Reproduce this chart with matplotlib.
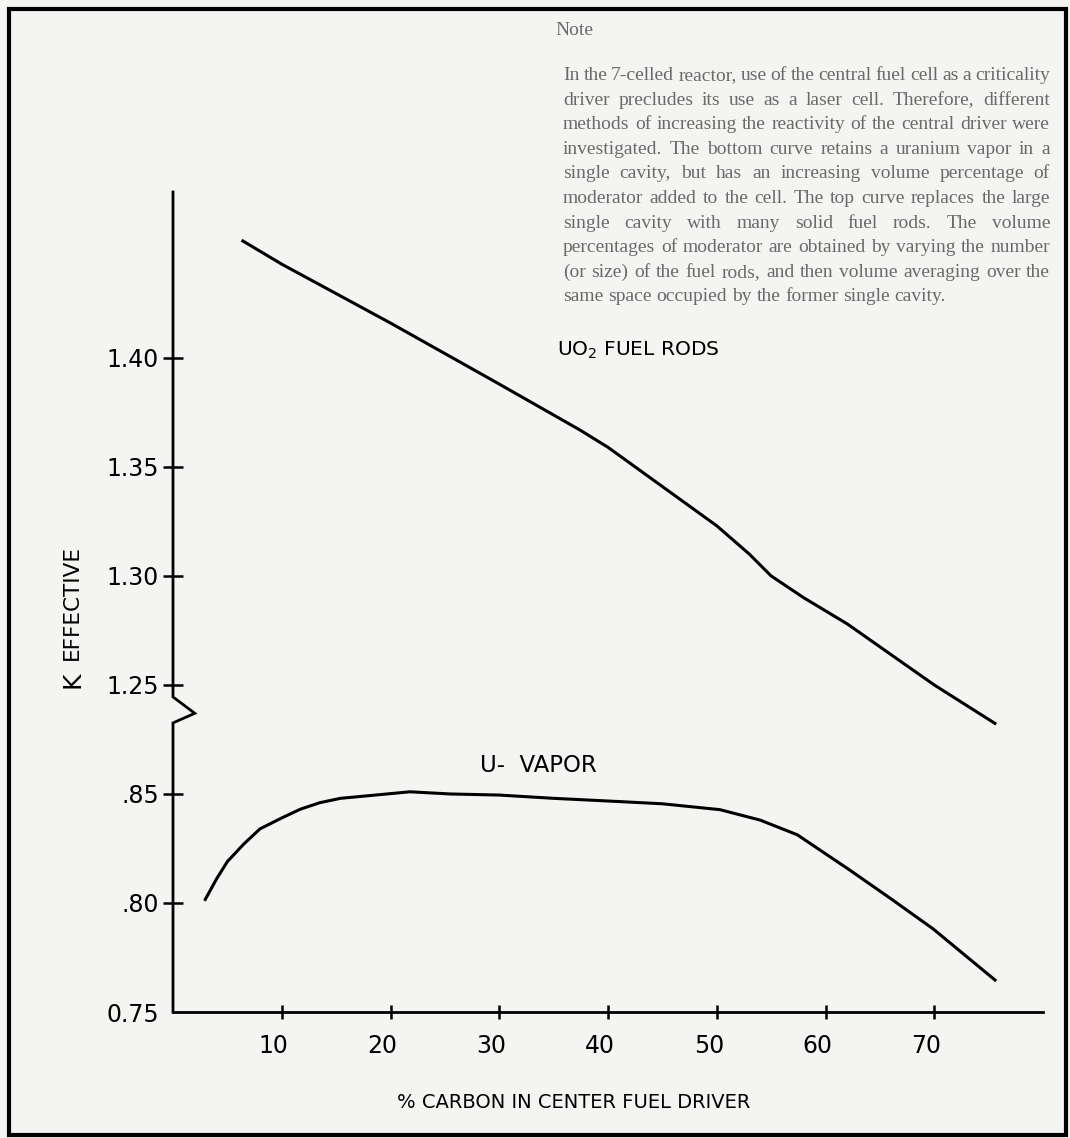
import numpy as np
import matplotlib
matplotlib.use('Agg')
import matplotlib.pyplot as plt
from matplotlib.patches import Rectangle
from matplotlib.transforms import ScaledTranslation

W, H = 1070, 1138
DPI = 100
PAPER = '#f4f4f2'
SANS = 'DejaVu Sans'

# data (K effective vs % carbon)
uo2_pct = [6.3, 10, 20, 30, 37.4, 40, 45, 50, 53, 55, 58, 62, 66, 70, 75.7]
uo2_keff = [1.454, 1.443, 1.416, 1.388, 1.367, 1.359, 1.341, 1.323, 1.310,
            1.300, 1.290, 1.278, 1.264, 1.250, 1.232]

vap_pct = [2.9, 4.0, 5.0, 6.5, 8.0, 10, 11.7, 13.5, 15.4, 21.8, 25.5, 30, 35,
           41.1, 45, 50.3, 54, 57.4, 62.2, 66, 69.9, 75.7]
vap_keff = [0.801, 0.811, 0.819, 0.827, 0.834, 0.839, 0.843, 0.846, 0.848,
            0.851, 0.850, 0.8495, 0.848, 0.8465, 0.8455, 0.8428, 0.838,
            0.8313, 0.8152, 0.802, 0.7881, 0.7642]

x_ticks = [10, 20, 30, 40, 50, 60, 70]
y_ticks = [0.75, 0.80, 0.85, 1.25, 1.30, 1.35, 1.40]
y_tick_labels = ['0.75', '.80', '.85', '1.25', '1.30', '1.35', '1.40']

note_lines = [
    "In the 7-celled reactor, use of the central fuel cell as a criticality",
    "driver precludes its use as a laser cell. Therefore, different",
    "methods of increasing the reactivity of the central driver were",
    "investigated. The bottom curve retains a uranium vapor in a",
    "single cavity, but has an increasing volume percentage of",
    "moderator added to the cell. The top curve replaces the large",
    "single cavity with many solid fuel rods. The volume",
    "percentages of moderator are obtained by varying the number",
    "(or size) of the fuel rods, and then volume averaging over the",
    "same space occupied by the former single cavity.",
]

# broken y axis: squeeze the empty band between .85 and 1.25
BRK_REAL = [0.0, 0.87, 1.23, 2.0]
BRK_AXIS = [0.0, 0.87, 0.88, 1.65]


def fwd(y):
    return np.interp(y, BRK_REAL, BRK_AXIS)


def inv(y):
    return np.interp(y, BRK_AXIS, BRK_REAL)


def fx(px):
    return px / W


def fy(py):
    return 1 - py / H


def text_width(fig, s, **kw):
    r = fig.canvas.get_renderer()
    t = fig.text(0, 0, s, **kw)
    w = t.get_window_extent(r).width
    t.remove()
    return w


def put_justified(fig, line, x0, x1, y, last=False, **kw):
    words = line.split()
    widths = [text_width(fig, w, **kw) for w in words]
    natural = text_width(fig, 'a a', **kw) - text_width(fig, 'aa', **kw)
    if last or len(words) < 2:
        gap = natural
    else:
        gap = max((x1 - x0 - sum(widths)) / (len(words) - 1), 2)
    x = x0
    for w, wd in zip(words, widths):
        fig.text(fx(x), fy(y), w, ha='left', va='baseline', **kw)
        x += wd + gap


fig = plt.figure(figsize=(W / DPI, H / DPI), dpi=DPI, facecolor=PAPER)
ax = fig.add_axes([fx(173), fy(1012), fx(1043) - fx(173), fy(192) - fy(1012)])
ax.set_facecolor(PAPER)
ax.set_yscale('function', functions=(fwd, inv))
ax.set_xlim(0, 80)
ax.set_ylim(0.75, 1.4761)

ax.plot(uo2_pct, uo2_keff, color='black', lw=2.2, solid_capstyle='butt')
ax.plot(vap_pct, vap_keff, color='black', lw=2.2, solid_capstyle='butt')

for side in ['top', 'right', 'left']:
    ax.spines[side].set_visible(False)
ax.spines['bottom'].set_linewidth(2.0)

# left axis drawn by hand with the break zig-zag
top = ax.get_ylim()[1]
ax.plot([0, 0, 2.0, 0, 0], [top, 1.2445, 1.237, 1.2326, 0.75],
        color='black', lw=2.0, clip_on=False, solid_joinstyle='miter')

ax.set_xticks(x_ticks, [str(v) for v in x_ticks])
ax.set_yticks(y_ticks, y_tick_labels)
ax.minorticks_off()
ax.tick_params(axis='x', direction='inout', length=10, width=1.8, pad=11,
               labelsize=17)
ax.tick_params(axis='y', direction='inout', length=14, width=1.8, pad=3,
               labelsize=17)
for lbl in ax.get_xticklabels():
    lbl.set_transform(lbl.get_transform()
                      + ScaledTranslation(-8 / DPI, 0, fig.dpi_scale_trans))
ax.yaxis.get_major_ticks()[0].tick1line.set_visible(False)

# curve labels
fig.text(fx(557), fy(350), 'UO$_2$ FUEL RODS', family=SANS, fontsize=14.5,
         ha='left', va='center')
fig.text(fx(480), fy(765), 'U-  VAPOR', family=SANS, fontsize=16.5,
         ha='left', va='center')

# axis titles
fig.text(fx(397), fy(1102), '% CARBON IN CENTER FUEL DRIVER', family=SANS,
         fontsize=14, ha='left', va='center')
fig.text(fx(72), fy(680), 'K', family=SANS, fontsize=18, rotation=90,
         ha='center', va='center')
fig.text(fx(72), fy(603), 'EFFECTIVE', family=SANS, fontsize=15.5,
         rotation=90, ha='center', va='center')

# note block
note_kw = dict(family=['Liberation Serif', 'DejaVu Serif'], fontsize=14,
               color='#6a6a6a')
fig.text(fx(555), fy(35), 'Note', ha='left', va='baseline', **note_kw)
for i, line in enumerate(note_lines):
    put_justified(fig, line, 563, 1050, 80 + i * 24.6,
                  last=(i == len(note_lines) - 1), **note_kw)

# page frame
fig.patches.append(Rectangle((fx(9), fy(1135)), fx(1066) - fx(9),
                             fy(9) - fy(1135), transform=fig.transFigure,
                             fill=False, edgecolor='black', lw=3))

fig.savefig('out.png', dpi=DPI, facecolor=PAPER)
